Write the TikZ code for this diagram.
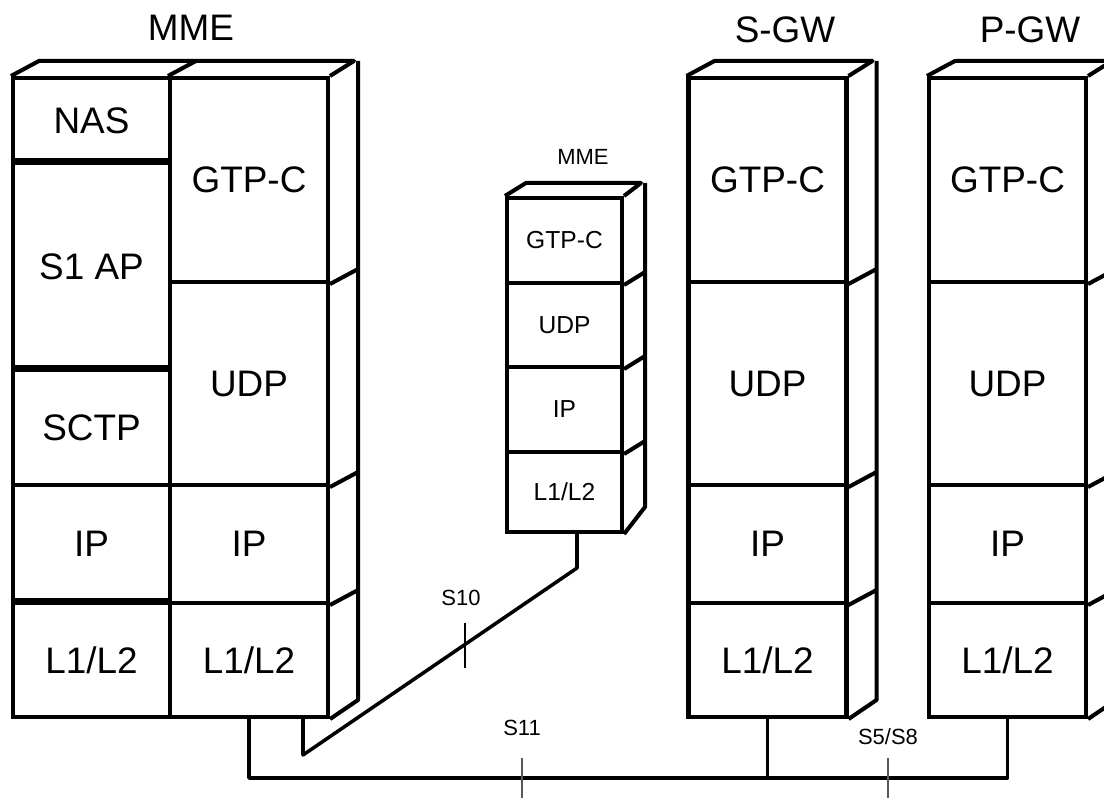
\documentclass[tikz,border=0pt]{standalone}
\usepackage{fontspec}
\setmainfont{Liberation Sans}
\usetikzlibrary{calc}
\tikzset{
	% strato di protocollo (faccia frontale della pila)
	strato/.style={draw, line width=2.3pt, inner sep=0pt, minimum width=31.6mm,
	               font=\fontsize{21}{25}\selectfont},
	% strato della pila piccola
	stratino/.style={draw, line width=2.3pt, inner sep=0pt, minimum width=23mm,
	                 font=\fontsize{14}{17}\selectfont},
	% facce laterali e superiori
	faccia/.style={line width=2.3pt, line join=round},
	% nome del nodo di rete
	titolo/.style={font=\fontsize{21}{25}\selectfont},
	% collegamento fra le pile
	link/.style={line width=2pt, line join=round},
	% nome dell'interfaccia
	interf/.style={font=\fontsize{12.5}{15}\selectfont},
	% tacca sull'interfaccia
	tacca/.style={line width=1.1pt, black!65},
}

\begin{document}
\begin{tikzpicture}[x=0.2mm, y=-0.2mm]
    \fill[white] (0,0) rectangle (1104,798);
    \useasboundingbox (0,0) rectangle (1104,798);

    % MME (due colonne)
    \node[titolo] (tMME) at (191,28) {MME};
    \node[strato, minimum width=31.4mm, minimum height=17mm]   (mNAS)  at (91.5,120.5) {NAS};
    \node[strato, minimum width=31.4mm, minimum height=41.4mm] (mS1)   at (91.5,266.5) {S1 AP};
    \node[strato, minimum width=31.4mm, minimum height=23mm]   (mSCTP) at (91.5,427.5) {SCTP};
    \node[strato, minimum width=31.4mm, minimum height=23.6mm] (mIPa)  at (91.5,544) {IP};
    \node[strato, minimum width=31.4mm, minimum height=22.8mm] (mL2a)  at (91.5,660) {L1/L2};
    \node[strato, minimum height=40.8mm] (mGTP) at (249,180) {GTP-C};
    \node[strato, minimum height=40.6mm] (mUDP) at (249,383.5) {UDP};
    \node[strato, minimum height=23.6mm] (mIPb) at (249,544) {IP};
    \node[strato, minimum height=22.8mm] (mL2b) at (249,660) {L1/L2};
    \draw[line width=3pt] (mS1.north west) -- (mS1.north east);
    \draw[line width=3pt] (mSCTP.north west) -- (mSCTP.north east);
    \draw[line width=3pt] (mL2a.north west) -- (mL2a.north east);
    \draw[faccia] (mNAS.north west) -- ++(28,-15) -- ++(315,0) -- (mGTP.north east);
    \draw[faccia] (mGTP.north west) -- ++(28,-15);
    \draw[faccia] (mGTP.north east) ++(28,-15) -- ++(0,639) -- (mL2b.south east);
    \draw[faccia] (mGTP.south east) -- ++(28,-15);
    \draw[faccia] (mUDP.south east) -- ++(28,-15);
    \draw[faccia] (mIPb.south east) -- ++(28,-15);

    % MME remoto (S10)
    \node[interf] (tMMEx) at (583,157) {MME};
    \node[stratino, minimum height=17mm]   (xGTP) at (564.5,240.5) {GTP-C};
    \node[stratino, minimum height=16.8mm] (xUDP) at (564.5,325) {UDP};
    \node[stratino, minimum height=17mm]   (xIP)  at (564.5,409.5) {IP};
    \node[stratino, minimum height=16mm]   (xL2)  at (564.5,492) {L1/L2};
    \draw[faccia] (xGTP.north west) -- ++(21,-13) -- ++(115,0) -- (xGTP.north east);
    \draw[faccia] (xGTP.north east) ++(21,-13) -- ++(0,324) -- (xL2.south east);
    \draw[faccia] (xGTP.south east) -- ++(21,-13);
    \draw[faccia] (xUDP.south east) -- ++(21,-13);
    \draw[faccia] (xIP.south east) -- ++(21,-13);

    % S-GW
    \node[titolo] (tSGW) at (785,30) {S-GW};
    \node[strato, minimum height=40.8mm] (sGTP) at (767.5,180) {GTP-C};
    \node[strato, minimum height=40.6mm] (sUDP) at (767.5,383.5) {UDP};
    \node[strato, minimum height=23.6mm] (sIP)  at (767.5,544) {IP};
    \node[strato, minimum height=22.8mm] (sL2)  at (767.5,660) {L1/L2};
    \draw[faccia] (sGTP.north west) -- ++(28,-15) -- ++(158,0) -- (sGTP.north east);
    \draw[faccia] (sGTP.north east) ++(28,-15) -- ++(0,639) -- (sL2.south east);
    \draw[faccia] (sGTP.south east) -- ++(28,-15);
    \draw[faccia] (sUDP.south east) -- ++(28,-15);
    \draw[faccia] (sIP.south east) -- ++(28,-15);

    % P-GW
    \node[titolo] (tPGW) at (1030,30) {P-GW};
    \node[strato, minimum width=31.4mm, minimum height=40.8mm] (pGTP) at (1007.5,180) {GTP-C};
    \node[strato, minimum width=31.4mm, minimum height=40.6mm] (pUDP) at (1007.5,383.5) {UDP};
    \node[strato, minimum width=31.4mm, minimum height=23.6mm] (pIP)  at (1007.5,544) {IP};
    \node[strato, minimum width=31.4mm, minimum height=22.8mm] (pL2)  at (1007.5,660) {L1/L2};
    \draw[faccia] (pGTP.north west) -- ++(28,-15) -- ++(157,0) -- (pGTP.north east);
    \draw[faccia] (pGTP.north east) ++(28,-15) -- ++(0,639) -- (pL2.south east);
    \draw[faccia] (pGTP.south east) -- ++(28,-15);
    \draw[faccia] (pUDP.south east) -- ++(28,-15);
    \draw[faccia] (pIP.south east) -- ++(28,-15);

    % S10
    \coordinate (s10a) at (303,717);
    \coordinate (s10b) at (577,532);
    \draw[link] (s10a) -- ++(0,38) -- ($(s10b)+(0,36)$) -- (s10b);
    \draw[line width=1.3pt] (465,623) -- (465,668);
    \node[interf] (lS10) at (461,598) {S10};

    % S11 e S5/S8
    \coordinate (bus) at (0,778);
    \draw[link] (mL2b.south) |- (pL2.south |- bus) -- (pL2.south);
    \draw[link] (sL2.south) -- (sL2.south |- bus);
    \draw[tacca] (522,758) -- (522,798);
    \node[interf] (lS11) at (522,728) {S11};
    \draw[tacca] (888,758) -- (888,798);
    \node[interf] (lS58) at (888,737) {S5/S8};
\end{tikzpicture}
\end{document}
